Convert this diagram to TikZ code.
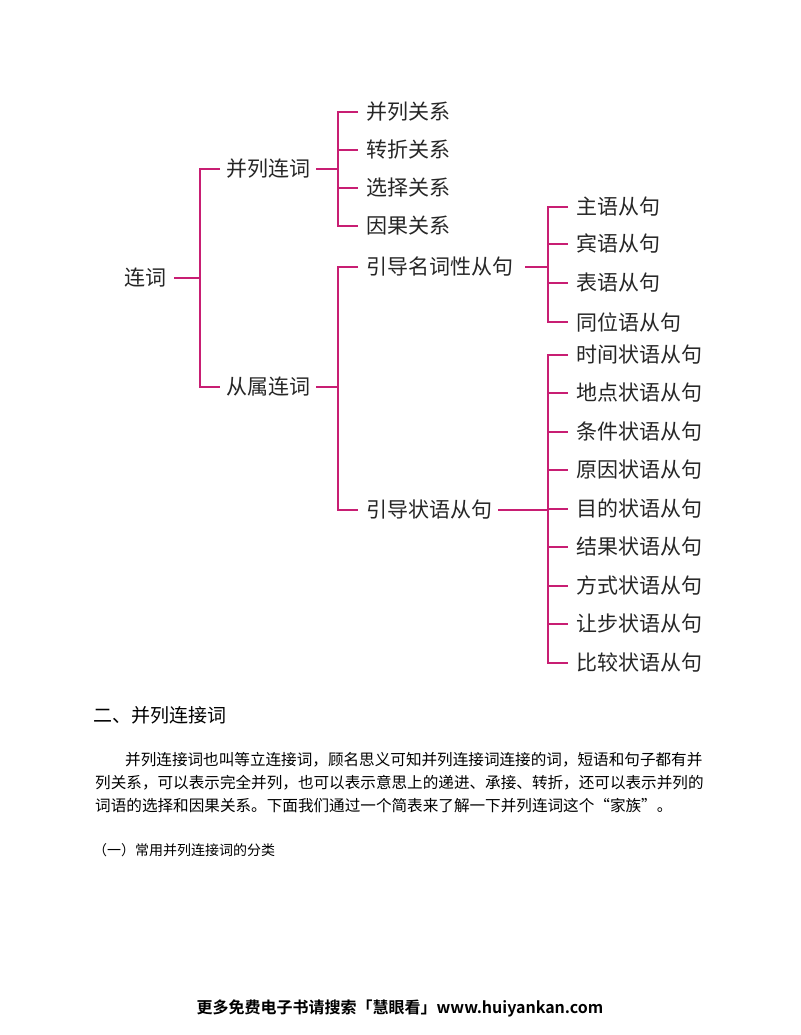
\documentclass[tikz,border=0pt]{standalone}
\usepackage{fontspec}
\setmainfont{Noto Sans CJK SC}
\newfontfamily\cjk{Noto Sans CJK SC}
\newfontfamily\cjkb[BoldFont={* Bold}]{Noto Sans CJK SC}
\definecolor{tl}{RGB}{200,30,115}
\begin{document}
\begin{tikzpicture}[x=1pt,y=-1pt,
  lbl/.style={anchor=west,inner sep=0pt,font=\fontsize{21}{22}\selectfont\cjk,text=black!85},
  br/.style={draw=tl,line width=1.8pt},
  pline/.style={anchor=west,inner sep=0pt,font=\fontsize{15.6}{23}\selectfont\cjk}]
\useasboundingbox (0,0) rectangle (800,1035);
\node[lbl] (root) at (124,278) {连词};
\node[lbl] (a) at (226,169) {并列连词};
\node[lbl] (b) at (226,387) {从属连词};
\foreach \n/\y/\t in {a1/112/并列关系,a2/150/转折关系,a3/188/选择关系,a4/226/因果关系,b1/267/引导名词性从句,b2/510/引导状语从句}
  \node[lbl] (\n) at (366,\y) {\t};
\foreach \n/\y/\t in {c1/207/主语从句,c2/244/宾语从句,c3/283/表语从句,c4/322/同位语从句,
  d1/355/时间状语从句,d2/393/地点状语从句,d3/432/条件状语从句,d4/470/原因状语从句,d5/509/目的状语从句,d6/547/结果状语从句,d7/586/方式状语从句,d8/624/让步状语从句,d9/663/比较状语从句}
  \node[lbl] (\n) at (576,\y) {\t};
\coordinate (r0) at (200,278);
\draw[br] ([xshift=8pt]root.east) -- (r0);
\draw[br] ([xshift=-6pt]a.west) -| (r0) |- ([xshift=-6pt]b.west);
\draw[br] ([xshift=6pt]a.east) -- (338,169);
\draw[br] ([xshift=-8pt]a1.west) -| (338,169) |- ([xshift=-8pt]a4.west);
\foreach \n in {a2,a3} \draw[br] (338,0 |- \n.west) -- ([xshift=-8pt]\n.west);
\draw[br] ([xshift=6pt]b.east) -- (338,387);
\draw[br] ([xshift=-8pt]b1.west) -| (338,387) |- ([xshift=-8pt]b2.west);
\draw[br] (525,267) -- (548,267);
\draw[br] ([xshift=-8pt]c1.west) -| (548,267) |- ([xshift=-8pt]c4.west);
\foreach \n in {c2,c3} \draw[br] (548,0 |- \n.west) -- ([xshift=-8pt]\n.west);
\draw[br] ([xshift=6pt]b2.east) -- (548,510);
\draw[br] ([xshift=-8pt]d1.west) -| (548,510) |- ([xshift=-8pt]d9.west);
\foreach \n in {d2,d3,d4,d5,d6,d7,d8} \draw[br] (548,0 |- \n.west) -- ([xshift=-8pt]\n.west);
\node[anchor=west,inner sep=0pt,font=\fontsize{19}{22}\selectfont\cjk] (h) at (93,715) {二、并列连接词};
\node[pline] (p1) at (125,760) {并列连接词也叫等立连接词，顾名思义可知并列连接词连接的词，短语和句子都有并};
\node[pline] (p2) at (95,783) {列关系，可以表示完全并列，也可以表示意思上的递进、承接、转折，还可以表示并列的};
\node[pline] (p3) at (95,806) {词语的选择和因果关系。下面我们通过一个简表来了解一下并列连词这个“家族”。};
\node[anchor=west,inner sep=0pt,font=\fontsize{14}{16}\selectfont\cjk] (s) at (93,850) {（一）常用并列连接词的分类};
\node[inner sep=0pt,font=\fontsize{16}{18}\selectfont\cjkb\bfseries] (f) at (400,1008) {更多免费电子书请搜索「慧眼看」www.huiyankan.com};
\end{tikzpicture}
\end{document}
